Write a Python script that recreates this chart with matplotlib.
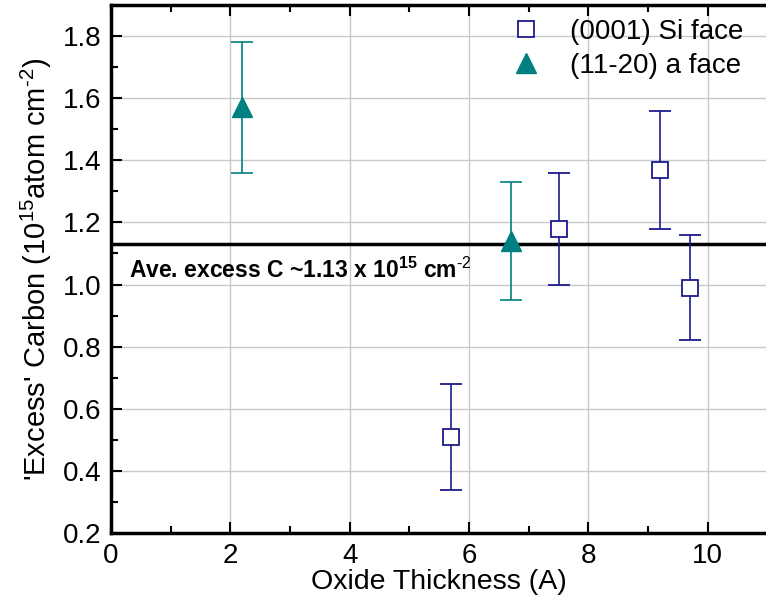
import matplotlib
matplotlib.use("Agg")
import matplotlib.pyplot as plt
from matplotlib.ticker import MultipleLocator, FormatStrFormatter
from matplotlib.lines import Line2D

plt.rcParams['font.family'] = ['Liberation Sans', 'DejaVu Sans']
plt.rcParams['mathtext.fontset'] = 'custom'
plt.rcParams['mathtext.rm'] = 'Liberation Sans'
plt.rcParams['mathtext.bf'] = 'Liberation Sans:bold'

si_x = [5.7, 7.5, 9.2, 9.7]
si_y = [0.51, 1.18, 1.37, 0.99]
si_err = [0.17, 0.18, 0.19, 0.17]

a_x = [2.2, 6.7]
a_y = [1.57, 1.14]
a_err = [0.21, 0.19]

ave_c = 1.13

si_color = '#1a1a8c'
a_color = '#008080'

fig = plt.figure(figsize=(7.66, 6.1), dpi=100)
ax = fig.add_axes([0.145, 0.126, 0.857, 0.866])

ax.errorbar(si_x, si_y, yerr=si_err, fmt='s', ms=11, mfc='white', mec=si_color,
            mew=1.3, ecolor=si_color, elinewidth=1.2, capsize=8, capthick=1.2, zorder=3)
ax.errorbar(a_x, a_y, yerr=a_err, fmt='^', ms=14, color=a_color, mec=a_color,
            ecolor=a_color, elinewidth=1.2, capsize=8, capthick=1.2, zorder=3)
ax.axhline(ave_c, color='black', lw=2.5, zorder=2)
ax.text(0.3, 1.045, r'Ave. excess C ~1.13 x 10$^{\mathbf{15}}$ cm$^{\mathbf{\text{-2}}}$',
        fontsize=16.5, fontweight='bold', ha='left', va='center')

ax.set_xlim(0, 11)
ax.set_ylim(0.2, 1.9)
ax.xaxis.set_major_locator(MultipleLocator(2))
ax.xaxis.set_minor_locator(MultipleLocator(1))
ax.yaxis.set_major_locator(MultipleLocator(0.2))
ax.yaxis.set_minor_locator(MultipleLocator(0.1))
ax.yaxis.set_major_formatter(FormatStrFormatter('%.1f'))
ax.grid(True, which='major', color='#c8c8c8', lw=1.0)
ax.set_axisbelow(True)
ax.tick_params(which='both', direction='in', top=True, right=False, labelsize=20, width=1.5)
ax.tick_params(which='major', length=8, pad=7)
ax.tick_params(which='minor', length=5)
for s in ['left', 'bottom', 'top']:
    ax.spines[s].set_linewidth(2.5)
ax.spines['right'].set_visible(False)

ax.set_xlabel('Oxide Thickness (A)', fontsize=20.5, labelpad=0)
ax.set_ylabel(r"'Excess' Carbon (10$^{15}$atom cm$^{\text{-2}}$)", fontsize=21, labelpad=6)

handles = [
    Line2D([], [], ls='none', marker='s', ms=11, mfc='white', mec=si_color, mew=1.3),
    Line2D([], [], ls='none', marker='^', ms=14, color=a_color),
]
ax.legend(handles, ['(0001) Si face', '(11-20) a face'], loc='upper right', frameon=False,
          fontsize=20, handletextpad=0.6, borderaxespad=0.1, labelspacing=0.3,
          bbox_to_anchor=(0.985, 1.0))

fig.savefig('out.png', dpi=100)
